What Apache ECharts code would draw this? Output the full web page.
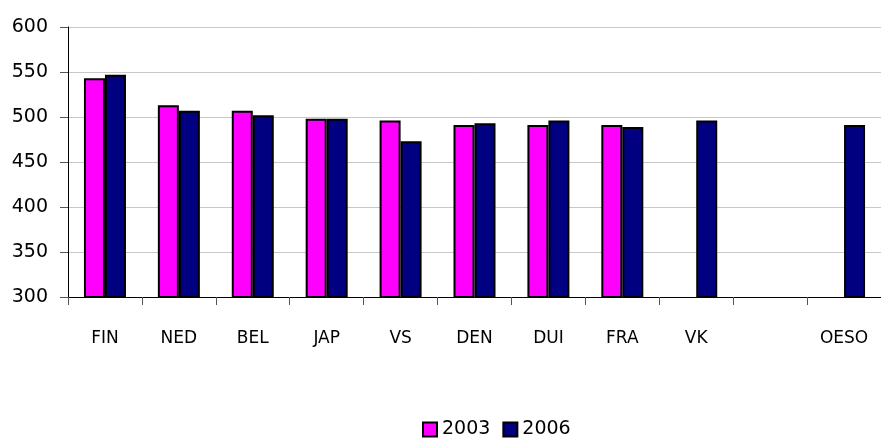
<!DOCTYPE html>
<html>
<head>
<meta charset="utf-8">
<script src="https://cdn.jsdelivr.net/npm/echarts@6/dist/echarts.min.js"></script>
<style>
  html, body { margin: 0; padding: 0; background: #fff; }
  #chart { width: 881px; height: 439px; }
</style>
</head>
<body>
<div id="chart"></div>
<script>
const categories = ['FIN', 'NED', 'BEL', 'JAP', 'VS', 'DEN', 'DUI', 'FRA', 'VK', '', 'OESO']
const values2003 = [543, 513, 507, 498, 496, 491, 491, 491, null, null, null]
const values2006 = [547, 507, 502, 498, 473, 493, 496, 489, 496, null, 491]
const yTicks = { min: 300, max: 600, interval: 50 }

const chart = echarts.init(document.getElementById('chart'))

const barStyle = (color) => ({
  color: color,
  borderColor: '#000',
  borderWidth: 2,
})

chart.setOption({
  animation: false,
  textStyle: { fontFamily: 'DejaVu Sans' },
  grid: { left: 68, top: 27, width: 823, height: 270 },
  legend: {
    left: 417,
    top: 415,
    itemWidth: 14,
    itemHeight: 14,
    itemGap: 12,
    icon: 'rect',
    textStyle: { fontSize: 19, color: '#000', fontFamily: 'DejaVu Sans' },
    data: ['2003', '2006'],
  },
  xAxis: {
    type: 'category',
    data: categories,
    axisLine: { lineStyle: { color: '#000', width: 1 } },
    axisTick: { show: true, length: 8, lineStyle: { color: '#555' }, alignWithLabel: false },
    axisLabel: { color: '#000', fontSize: 17, margin: 33, interval: 0 },
  },
  yAxis: {
    type: 'value',
    min: yTicks.min,
    max: yTicks.max,
    interval: yTicks.interval,
    axisLine: { show: true, lineStyle: { color: '#000', width: 1 } },
    axisTick: { show: true, length: 8, lineStyle: { color: '#555' } },
    axisLabel: { color: '#000', fontSize: 19, margin: 20 },
    splitLine: { lineStyle: { color: '#c8c8c8' } },
  },
  series: [
    {
      name: '2003',
      type: 'bar',
      data: values2003,
      barWidth: 21,
      barGap: '0%',
      itemStyle: barStyle('#ff00ff'),
    },
    {
      name: '2006',
      type: 'bar',
      data: values2006,
      barWidth: 21,
      barGap: '0%',
      itemStyle: barStyle('#000080'),
    },
  ],
})
</script>
</body>
</html>
